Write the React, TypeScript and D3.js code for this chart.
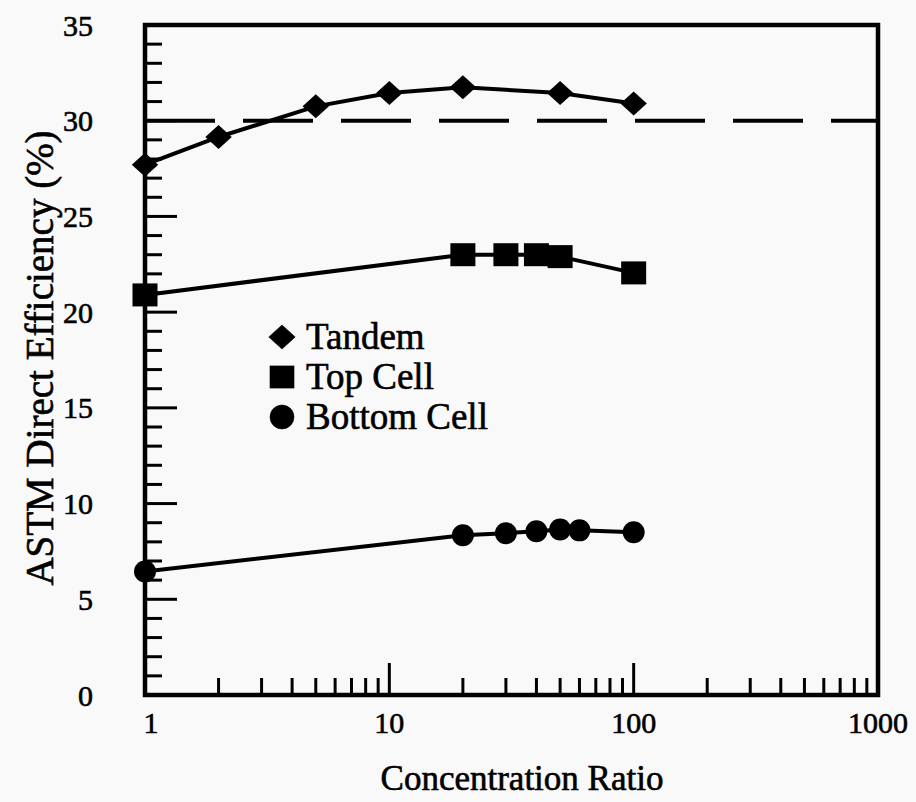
import React from 'react';
import * as d3 from 'd3';

// values
const tandemX = [1, 2, 5, 10, 20, 50, 100];
const tandemY = [27.7, 29.15, 30.75, 31.45, 31.75, 31.45, 30.9];
const topCellX = [1, 20, 30, 40, 50, 100];
const topCellY = [20.9, 23.0, 23.0, 23.0, 22.9, 22.05];
const bottomCellX = [1, 20, 30, 40, 50, 60, 100];
const bottomCellY = [6.45, 8.35, 8.45, 8.55, 8.65, 8.6, 8.5];
const yTickLabels = [0, 5, 10, 15, 20, 25, 30, 35];
const xTickLabels = [1, 10, 100, 1000];
const referenceLine = 30;
const legendNames = ['Tandem', 'Top Cell', 'Bottom Cell'];

const W = 916;
const H = 802;
const margin = { top: 25, right: 38, bottom: 107, left: 145 };
const FONT = '"Liberation Serif", "DejaVu Serif", serif';

const Marker = ({ shape, x, y, s }: { shape: string; x: number; y: number; s: number }) => {
  if (shape === 'diamond') {
    const w = s * 0.55, h = s * 0.5;
    return <path d={`M${x},${y - h}L${x + w},${y}L${x},${y + h}L${x - w},${y}Z`} fill="#000" />;
  }
  if (shape === 'square') {
    return <rect x={x - s / 2} y={y - s * 0.46} width={s} height={s * 0.92} fill="#000" />;
  }
  return <circle cx={x} cy={y} r={s / 2} fill="#000" />;
};

export default function App() {
  const x = d3.scaleLog().domain([1, 1000]).range([margin.left, W - margin.right]);
  const y = d3.scaleLinear().domain([0, 35]).range([H - margin.bottom, margin.top]);
  const [x0, x1] = x.range();
  const [y0, y1] = y.range();

  const line = d3.line<[number, number]>().x(d => x(d[0])).y(d => y(d[1]));

  const series = [
    { name: legendNames[0], shape: 'diamond', pts: tandemX.map((v, i) => [v, tandemY[i]] as [number, number]), size: 24 },
    { name: legendNames[1], shape: 'square', pts: topCellX.map((v, i) => [v, topCellY[i]] as [number, number]), size: 25 },
    { name: legendNames[2], shape: 'circle', pts: bottomCellX.map((v, i) => [v, bottomCellY[i]] as [number, number]), size: 22 },
  ];

  // minor ticks 2..9 in each decade, majors at powers of ten
  const xMinor: number[] = [];
  [1, 10, 100].forEach(dec => d3.range(2, 10).forEach(k => xMinor.push(dec * k)));
  const yMinor = d3.range(1, 35).filter(v => v % 5 !== 0);
  const yMajor = yTickLabels.filter(v => v > 0 && v < 35);

  return (
    <svg width={W} height={H} style={{ position: 'absolute', left: 0, top: 0, background: '#f9f9f9' }}
      fontFamily={FONT}>
      {/* ticks (inward) */}
      <g stroke="#000" strokeWidth={3}>
        {yMinor.map(v => <line key={'ym' + v} x1={x0} x2={x0 + 17} y1={y(v)} y2={y(v)} />)}
        {yMajor.map(v => <line key={'yM' + v} x1={x0} x2={x0 + 32} y1={y(v)} y2={y(v)} />)}
        {xMinor.map(v => <line key={'xm' + v} x1={x(v)} x2={x(v)} y1={y0} y2={y0 - 17} />)}
        {[10, 100].map(v => <line key={'xM' + v} x1={x(v)} x2={x(v)} y1={y0} y2={y0 - 32} />)}
      </g>

      {/* dashed reference line */}
      <line x1={x0} x2={x1} y1={y(referenceLine)} y2={y(referenceLine)} stroke="#000" strokeWidth={4}
        strokeDasharray="70 28" />

      {/* frame */}
      <rect x={x0} y={y1} width={x1 - x0} height={y0 - y1} fill="none" stroke="#000" strokeWidth={4.5} />

      {/* series */}
      {series.map(s => (
        <g key={s.name}>
          <path d={line(s.pts) || ''} fill="none" stroke="#000" strokeWidth={4} />
          {s.pts.map((p, i) => <Marker key={i} shape={s.shape} x={x(p[0])} y={y(p[1])} s={s.size} />)}
        </g>
      ))}

      <g fill="#000" stroke="#000" strokeWidth={0.6}>
        {/* tick labels */}
        <g fontSize={30}>
          {yTickLabels.map(v => (
            <text key={'yl' + v} x={93} y={y(v)} dy="0.35em" textAnchor="end">{v}</text>
          ))}
          {xTickLabels.map(v => (
            <text key={'xl' + v} x={x(v) + (v === 1 ? 6 : 0)} y={y0 + 38} textAnchor="middle">{v}</text>
          ))}
        </g>

        {/* axis titles */}
        <text x={522} y={790} fontSize={35} textAnchor="middle">Concentration Ratio</text>
        <text transform="translate(53,358) rotate(-90)" fontSize={39} textAnchor="middle">
          ASTM Direct Efficiency (%)
        </text>

        {/* legend */}
        <g fontSize={37}>
          {series.map((s, i) => (
            <g key={'lg' + s.name}>
              <Marker shape={s.shape} x={282} y={337 + i * 40} s={24} />
              <text x={306} y={349 + i * 40}>{s.name}</text>
            </g>
          ))}
        </g>
      </g>
    </svg>
  );
}
